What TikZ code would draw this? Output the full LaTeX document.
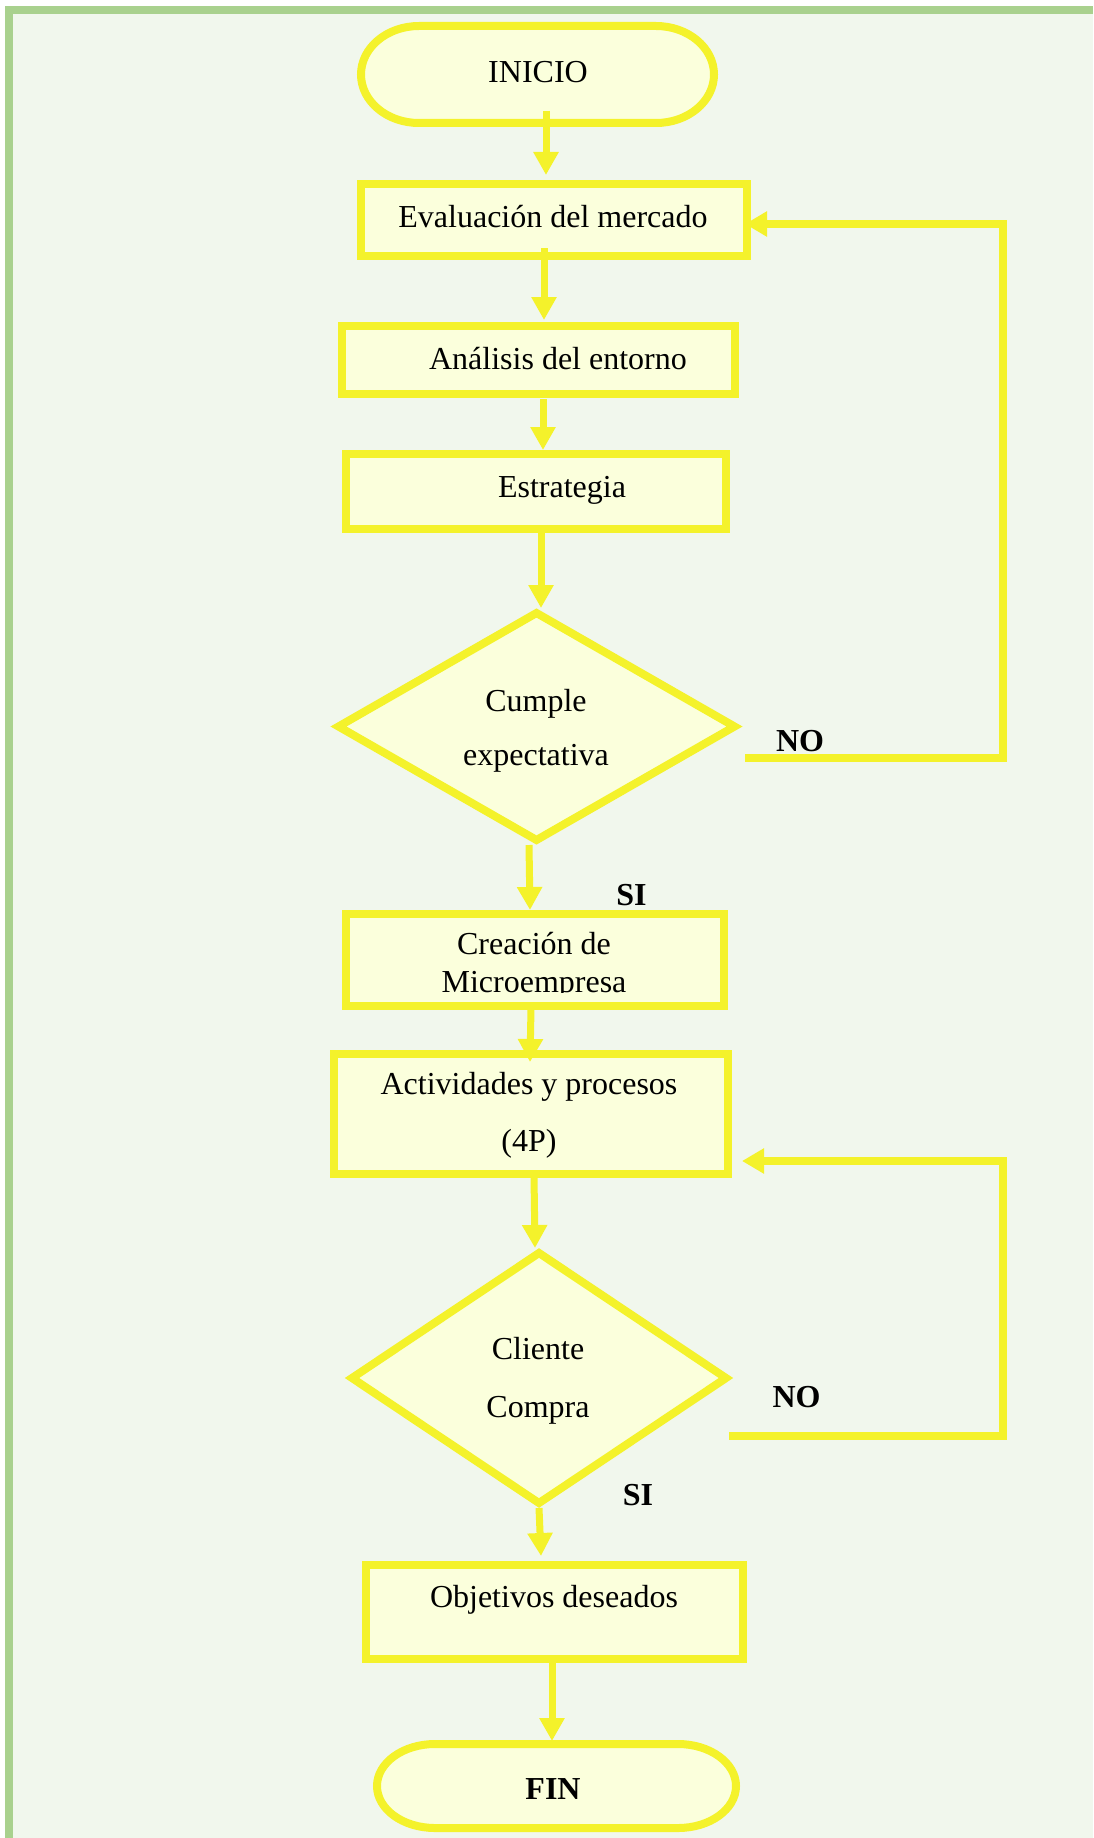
\documentclass[tikz,border=0pt]{standalone}
\usepackage{fontspec}
\setmainfont{Liberation Serif}
\usetikzlibrary{arrows.meta,shapes.geometric,calc}
\definecolor{bgc}{HTML}{F1F7ED}
\definecolor{framegreen}{HTML}{A9D18E}
\definecolor{yel}{HTML}{F4F22B}
\definecolor{boxfill}{HTML}{FBFFDC}
\begin{document}
\begin{tikzpicture}[x=1pt,y=1pt,
  box/.style={draw=yel, line width=8pt, fill=boxfill, rectangle, inner sep=0pt, outer sep=0pt},
  dia/.style={draw=yel, line width=8pt, fill=boxfill, diamond, inner sep=0pt, outer sep=0pt},
  term/.style={draw=none, inner sep=0pt, outer sep=0pt},
  stad/.style={draw=yel, line width=8pt, fill=boxfill},
  txt/.style={font=\fontsize{32}{38}\selectfont, inner sep=0pt, align=center, text=black},
  lbl/.style={font=\fontsize{32}{38}\selectfont\bfseries, inner sep=0pt, text=black},
  conn/.style={draw=yel, line width=7pt, -{Triangle[width=24pt,length=23pt]}},
  loopline/.style={draw=yel, line width=7.5pt, line join=miter, -{Triangle[width=24pt,length=22pt]}},
]
\useasboundingbox (0,0) rectangle (1093,-1838);
\fill[white] (0,0) rectangle (1093,-1838);
\fill[framegreen] (5,-6) rectangle (1093,-1838);
\fill[bgc] (13,-14) rectangle (1093,-1838);

% INICIO
\node[term, minimum width=353pt, minimum height=97pt] (ini) at (537.5,-74.5) {};
\filldraw[stad] ([xshift=58pt]ini.north west) -- ([xshift=-58pt]ini.north east)
  arc[start angle=90,end angle=-90,x radius=58,y radius=48.5]
  -- ([xshift=58pt]ini.south west)
  arc[start angle=270,end angle=90,x radius=58,y radius=48.5] -- cycle;
\node[txt] (iniT) at (538,-72.5) {INICIO};

% boxes
\node[box, minimum width=386pt, minimum height=72pt] (eva) at (554,-220) {};
\node[txt] (evaT) at (553,-217) {Evaluación del mercado};

\node[box, minimum width=393pt, minimum height=68pt] (ana) at (538.5,-360) {};
\node[txt] (anaT) at (558,-358.5) {Análisis del entorno};

\node[box, minimum width=380pt, minimum height=75pt] (est) at (536,-491.5) {};
\node[txt] (estT) at (562,-490.75) {Estrategia};

\node[dia, minimum width=396pt, minimum height=227pt] (d1) at (536.5,-726.5) {};
\node[txt, font=\fontsize{32}{54}\selectfont] (d1T) at (536,-730.5) {Cumple\\expectativa};

\node[box, minimum width=378pt, minimum height=92pt] (cre) at (535,-960) {};
\begin{scope}
  \clip (346,-914) rectangle (724,-992);
  \node[txt] (creT) at (534,-966) {Creación de\\Microempresa};
\end{scope}

\node[box, minimum width=394pt, minimum height=120pt] (act) at (531,-1114) {};
\node[txt, font=\fontsize{32}{57}\selectfont] (actT) at (529,-1115) {Actividades y procesos\\(4P)};

\node[dia, minimum width=374pt, minimum height=250pt] (d2) at (539,-1378) {};
\node[txt, font=\fontsize{32}{58}\selectfont] (d2T) at (538,-1380.5) {Cliente\\Compra};

\node[box, minimum width=377pt, minimum height=94pt] (obj) at (554.5,-1612) {};
\node[txt] (objT) at (554,-1600) {Objetivos deseados};

% FIN
\node[term, minimum width=359pt, minimum height=84pt] (fin) at (556.5,-1786) {};
\filldraw[stad] ([xshift=58pt]fin.north west) -- ([xshift=-58pt]fin.north east)
  arc[start angle=90,end angle=-90,x radius=58,y radius=42]
  -- ([xshift=58pt]fin.south west)
  arc[start angle=270,end angle=90,x radius=58,y radius=42] -- cycle;
\node[lbl] (finT) at (553,-1789.5) {FIN};

% labels
\node[lbl] (no1) at (800,-741) {NO};
\node[lbl] (si1) at (631.5,-895.5) {SI};
\node[lbl] (no2) at (796.5,-1397.5) {NO};
\node[lbl] (si2) at (638,-1495) {SI};

% connectors
\draw[conn] ([xshift=8.5pt,yshift=12pt]ini.south) -- ([xshift=-8pt,yshift=9pt]eva.north);
\draw[conn] ([xshift=-10pt,yshift=8pt]eva.south) -- ([xshift=5.5pt,yshift=6pt]ana.north);
\draw[conn] ([xshift=4.5pt,yshift=-5pt]ana.south) -- ([xshift=7pt,yshift=4pt]est.north);
\draw[conn] ([xshift=5pt,yshift=-3pt]est.south) -- ([xshift=4.5pt,yshift=5pt]d1.north);
\draw[conn] ([xshift=-7.5pt,yshift=-5pt]d1.south) -- ([xshift=-5pt,yshift=4pt]cre.north);
\draw[conn] ([xshift=-4pt,yshift=-2pt]cre.south) -- ([xshift=-1pt,yshift=-8pt]act.north);
\draw[conn] ([xshift=3pt,yshift=-2pt]act.south) -- ([xshift=-4pt,yshift=5pt]d2.north);
\draw[conn] ([xshift=0pt,yshift=-5pt]d2.south) -- ([xshift=-13.5pt,yshift=9pt]obj.north);
\draw[conn] ([xshift=-2.5pt,yshift=-4pt]obj.south) -- ([xshift=-4.5pt,yshift=3pt]fin.north);

% loops
\draw[loopline] ($(d1.east)+(10.5,-31.5)$) -| ($(eva.east)+(256,-4)$) -- ([xshift=-2pt,yshift=-4pt]eva.east);
\draw[loopline] ($(d2.east)+(3,-58)$) -| ($(act.east)+(275,-47)$) -- ([xshift=14pt,yshift=-47pt]act.east);
\end{tikzpicture}
\end{document}
